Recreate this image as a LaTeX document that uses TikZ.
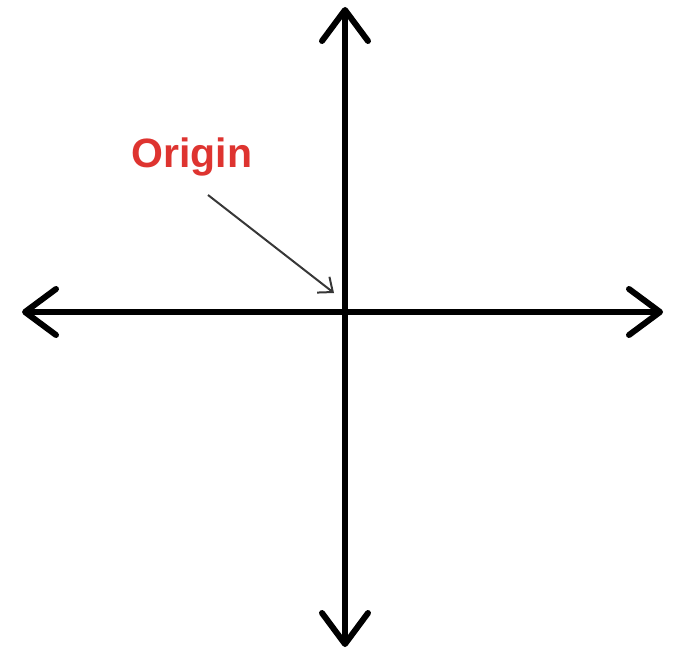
\documentclass[tikz,border=0pt]{standalone}
\usepackage{fontspec}
\setmainfont{Liberation Sans}
\usetikzlibrary{arrows.meta}
\definecolor{labelred}{RGB}{222,52,48}
\definecolor{pointer}{RGB}{55,55,55}
\tikzset{
  axis/.style={line width=6pt, line cap=round, line join=round,
    {Straight Barb[length=31pt,width=46pt,line width=6pt,line join=round,line cap=round]}-{Straight Barb[length=31pt,width=46pt,line width=6pt,line join=round,line cap=round]}},
  pointerline/.style={line width=2pt, draw=pointer, -{Straight Barb[length=12pt,width=20pt,line width=2pt]}},
  lbl/.style={text=labelred, font=\bfseries\fontsize{41}{45}\selectfont, inner sep=0pt}
}
\begin{document}
\begin{tikzpicture}[x=1pt,y=1pt]
  \useasboundingbox (0,0) rectangle (684,654);
  \coordinate (top) at (345,647);
  \coordinate (bottom) at (345,7);
  \coordinate (left) at (22,342);
  \coordinate (right) at (663,342);
  \coordinate (ptrstart) at (208,459);
  \coordinate (ptrend) at (334,361);
  \draw[axis] (bottom) -- (top);
  \draw[axis] (left) -- (right);
  \node[lbl, anchor=base] (origin) at (192,486) {Origin};
  \draw[pointerline] (ptrstart) -- (ptrend);
\end{tikzpicture}
\end{document}
